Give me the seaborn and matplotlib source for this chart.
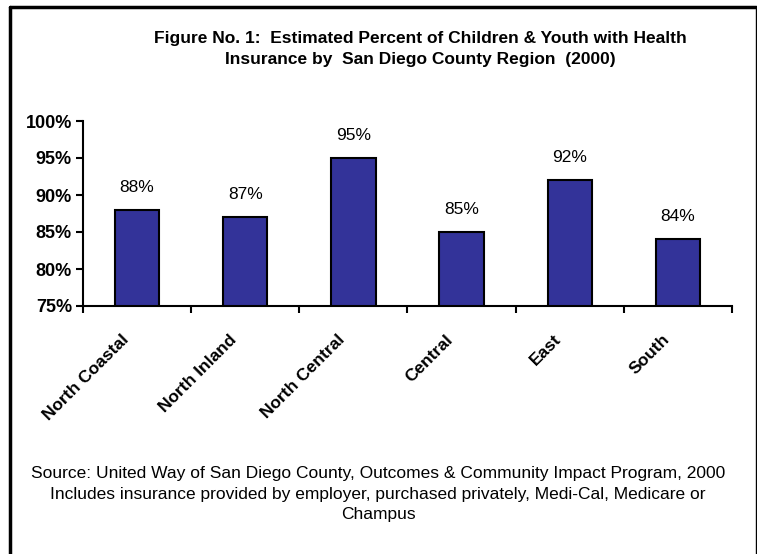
import matplotlib
matplotlib.use("Agg")
import matplotlib.pyplot as plt
import matplotlib.transforms as mtransforms
import seaborn as sns
import pandas as pd
import numpy as np
from matplotlib.lines import Line2D
from matplotlib import font_manager

regions = ["North Coastal", "North Inland", "North Central", "Central", "East", "South"]
percent = [88, 87, 95, 85, 92, 84]
y_ticks = [75, 80, 85, 90, 95, 100]
title = "Figure No. 1:  Estimated Percent of Children & Youth with Health\nInsurance by  San Diego County Region  (2000)"
source = ("Source: United Way of San Diego County, Outcomes & Community Impact Program, 2000\n"
          "Includes insurance provided by employer, purchased privately, Medi-Cal, Medicare or\n"
          "Champus")

sns.set_style("white")
names = {f.name for f in font_manager.fontManager.ttflist}
fam = [f for f in ["Liberation Sans Narrow", "Liberation Sans", "DejaVu Sans"] if f in names]
plt.rcParams["font.family"] = fam
plt.rcParams["text.color"] = "black"
plt.rcParams["xtick.color"] = "black"
plt.rcParams["ytick.color"] = "black"

df = pd.DataFrame({"region": regions, "percent": percent})

fig = plt.figure(figsize=(7.57, 5.54), dpi=100)
ax = fig.add_axes([83/757, 1-306/554, (732-83)/757, (306-121)/554])
sns.barplot(data=df, x="region", y="percent", color="#333399", edgecolor="black",
            linewidth=1.5, width=0.41, saturation=1, ax=ax)

ax.set_ylim(75, 100)
ax.set_xlim(-0.5, len(regions) - 0.5)
ax.set_yticks(y_ticks)
ax.set_yticklabels([f"{v}%" for v in y_ticks], fontsize=13, fontweight="bold")
ax.set_xticks(range(len(regions)))
ax.set_xticklabels([])
ax.set_xticks(np.arange(-0.5, len(regions)), minor=True)
ax.tick_params(axis="x", which="major", length=0, bottom=True)
ax.tick_params(axis="x", which="minor", length=5, width=1.5, direction="out",
               color="black", bottom=True)
ax.tick_params(axis="y", length=5, width=1.5, direction="out", color="black", pad=3, left=True)
ax.set_xlabel("")
ax.set_ylabel("")
for s in ["top", "right"]:
    ax.spines[s].set_visible(False)
for s in ["left", "bottom"]:
    ax.spines[s].set_color("black")
    ax.spines[s].set_linewidth(1.5)
ax.spines["bottom"].set_zorder(5)

# rotated category labels
lab_tr = ax.get_xaxis_transform() + mtransforms.ScaledTranslation(-16/100, -26/100, fig.dpi_scale_trans)
for i, name in enumerate(regions):
    ax.text(i, 0, name, transform=lab_tr, rotation=45, ha="right", va="top",
            rotation_mode="anchor", fontsize=12.5, fontweight="bold", color="black")

for i, v in enumerate(percent):
    ax.annotate(f"{v}%", xy=(i, v), xytext=(0, 11), textcoords="offset points",
                ha="center", va="bottom", fontsize=12.5, color="black")

fig.text(420/757, 1-49/554, title, ha="center", va="center", fontsize=12.5,
         fontweight="bold", linespacing=1.45, color="black")
fig.text(378/757, 1-494/554, source, ha="center", va="center", fontsize=12.5,
         linespacing=1.45, color="black")

# outer frame
fig.add_artist(Line2D([10/757, 10/757], [0, 1-7/554], transform=fig.transFigure, color="black", lw=2.5))
fig.add_artist(Line2D([10/757, 756/757], [1-7/554, 1-7/554], transform=fig.transFigure, color="black", lw=2.5))
fig.add_artist(Line2D([755.5/757, 755.5/757], [0, 1-7/554], transform=fig.transFigure, color="black", lw=1))

fig.savefig("out.png", dpi=100)
